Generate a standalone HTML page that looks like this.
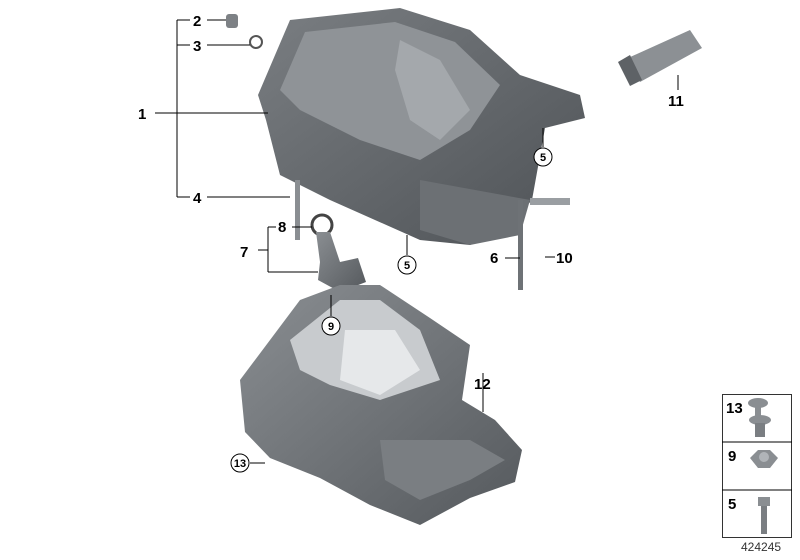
<!DOCTYPE html>
<html><head><style>
body{margin:0;background:#fff;}
svg{display:block;font-family:"Liberation Sans",sans-serif;}
.l{font-weight:bold;font-size:15px;fill:#000;}
.ln{stroke:#000;stroke-width:1;fill:none;}
</style></head><body>
<svg width="800" height="560" viewBox="0 0 800 560">
<defs>
<linearGradient id="g1" x1="0" y1="0" x2="1" y2="1"><stop offset="0" stop-color="#7a7e82"/><stop offset="1" stop-color="#4e5256"/></linearGradient>
<linearGradient id="g2" x1="0" y1="0" x2="1" y2="1"><stop offset="0" stop-color="#8a8e92"/><stop offset="1" stop-color="#55595d"/></linearGradient>
</defs>
<!-- upper pan -->
<polygon points="258,95 290,20 400,8 470,30 520,75 580,95 585,118 545,128 532,200 505,230 470,245 420,240 330,200 280,175 266,120" fill="url(#g1)"/>
<polygon points="280,90 305,32 395,22 455,42 500,85 470,130 420,160 360,140 300,110" fill="#8f9397"/>
<polygon points="400,40 440,60 470,110 440,140 410,120 395,70" fill="#a4a8ac"/>
<polygon points="420,180 530,200 520,235 470,245 420,230" fill="#6c7074"/>
<!-- small parts -->
<rect x="226" y="14" width="12" height="14" rx="3" fill="#7d8185"/>
<circle cx="256" cy="42" r="6" fill="none" stroke="#555" stroke-width="2"/>
<rect x="295" y="180" width="5" height="60" fill="#8a8e92"/>
<rect x="518" y="200" width="5" height="90" fill="#6e7276"/>
<rect x="530" y="198" width="40" height="7" fill="#9a9ea2"/>
<!-- dipstick tube (7,8) -->
<circle cx="322" cy="225" r="10" fill="none" stroke="#444" stroke-width="3"/>
<polygon points="316,232 330,232 340,262 358,258 366,282 340,292 318,280 320,262" fill="url(#g2)"/>
<!-- lower tray -->
<polygon points="240,380 300,300 340,285 380,285 430,318 470,345 462,400 495,420 522,450 515,482 470,498 420,525 370,505 320,478 270,458 245,432" fill="url(#g2)"/>
<polygon points="290,340 340,300 380,300 420,330 440,380 380,400 330,385 300,370" fill="#c8cbce"/>
<polygon points="345,330 395,330 420,370 380,395 340,380" fill="#e6e8ea"/>
<polygon points="380,440 470,440 505,460 470,480 420,500 385,480" fill="#7a7e82"/>
<!-- tube 11 -->
<polygon points="628,58 690,30 702,48 640,82" fill="#8c9094"/>
<polygon points="618,62 630,55 642,80 630,86" fill="#5e6266"/>
<!-- leaders -->
<path class="ln" d="M155,113H268 M177,20V197 M177,20H190 M177,45H190 M177,197H190 M207,20H226 M207,45H250 M207,197H290"/>
<path class="ln" d="M268,227V272 M258,250H268 M268,227H276 M268,272H318 M292,227H312"/>
<path class="ln" d="M543,147V128 M407,255V235 M331,316V295 M505,258H520 M555,257H545 M678,90V75 M483,373V412 M250,463H265"/>
<text class="l" x="138" y="119">1</text>
<text class="l" x="193" y="26">2</text>
<text class="l" x="193" y="51">3</text>
<text class="l" x="193" y="203">4</text>
<text class="l" x="240" y="257">7</text>
<text class="l" x="278" y="232">8</text>
<text class="l" x="490" y="263">6</text>
<text class="l" x="556" y="263">10</text>
<text class="l" x="668" y="106">11</text>
<text class="l" x="474" y="389">12</text>
<g font-size="11" font-weight="bold" text-anchor="middle">
<circle cx="543" cy="157" r="9" fill="#fff" stroke="#000"/><text x="543" y="161">5</text>
<circle cx="407" cy="265" r="9" fill="#fff" stroke="#000"/><text x="407" y="269">5</text>
<circle cx="331" cy="326" r="9" fill="#fff" stroke="#000"/><text x="331" y="330">9</text>
<circle cx="240" cy="463" r="9" fill="#fff" stroke="#000"/><text x="240" y="467">13</text>
</g>
<!-- inset -->
<rect x="722.5" y="394.5" width="69" height="143" fill="#fff" stroke="#333"/>
<path class="ln" d="M722,442H792 M722,490H792" stroke="#333"/>
<text class="l" x="726" y="413">13</text>
<text class="l" x="728" y="461">9</text>
<text class="l" x="728" y="509">5</text>
<ellipse cx="758" cy="403" rx="10" ry="5" fill="#8a8e92"/>
<rect x="755" y="406" width="6" height="12" fill="#8a8e92"/>
<ellipse cx="760" cy="420" rx="11" ry="5" fill="#8a8e92"/>
<rect x="755" y="423" width="10" height="14" fill="#7a7e82"/>
<polygon points="750,458 758,450 770,450 778,458 770,468 758,468" fill="#8a8e92"/>
<circle cx="764" cy="457" r="5" fill="#b0b4b8"/>
<rect x="758" y="497" width="12" height="9" fill="#8a8e92"/>
<rect x="761" y="506" width="6" height="28" fill="#7a7e82"/>
<text x="741" y="551" font-size="12" fill="#333">424245</text>
</svg>
</body></html>
